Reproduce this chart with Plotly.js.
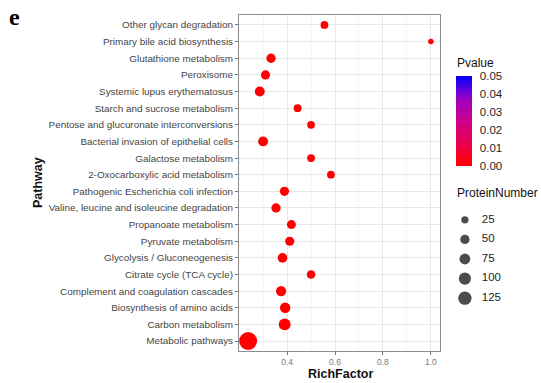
<!DOCTYPE html>
<html><head><meta charset="utf-8">
<script src="https://cdn.plot.ly/plotly-3.0.1.min.js"></script>
<style>html,body{margin:0;padding:0;background:#fff}#chart{width:541px;height:383px}</style>
</head><body><div id="chart"></div>
<script>
// ---- data (top to bottom) ----
const pathways = [
  "Other glycan degradation",
  "Primary bile acid biosynthesis",
  "Glutathione metabolism",
  "Peroxisome",
  "Systemic lupus erythematosus",
  "Starch and sucrose metabolism",
  "Pentose and glucuronate interconversions",
  "Bacterial invasion of epithelial cells",
  "Galactose metabolism",
  "2-Oxocarboxylic acid metabolism",
  "Pathogenic Escherichia coli infection",
  "Valine, leucine and isoleucine degradation",
  "Propanoate metabolism",
  "Pyruvate metabolism",
  "Glycolysis / Gluconeogenesis",
  "Citrate cycle (TCA cycle)",
  "Complement and coagulation cascades",
  "Biosynthesis of amino acids",
  "Carbon metabolism",
  "Metabolic pathways"
];
const richFactor = [0.556, 1.0, 0.333, 0.31, 0.286, 0.444, 0.5, 0.3, 0.5, 0.583,
                    0.389, 0.354, 0.418, 0.411, 0.381, 0.5, 0.375, 0.392, 0.39, 0.2375];
const proteinNumber = [30, 10, 50, 48, 60, 32, 30, 58, 30, 30,
                       48, 50, 45, 48, 55, 40, 65, 68, 95, 255];
const pValue = [0.0003, 0.0004, 0.0001, 0.0002, 0.0001, 0.0003, 0.0002, 0.0001, 0.0002, 0.0003,
                0.0001, 0.0002, 0.0001, 0.0001, 0.0001, 0.0002, 0.0001, 0.0001, 0.0001, 0.0000];
const xTicks = [0.4, 0.6, 0.8, 1.0];
const pTicks = [0, 0.01, 0.02, 0.03, 0.04, 0.05];
const sizeBreaks = [25, 50, 75, 100, 125];

// ---- styling helpers ----
const diam = n => 2.45 + 0.97 * Math.sqrt(n);
const cscale = [[0,'#FF0000'],[0.25,'#E8004F'],[0.5,'#CA0089'],[0.75,'#9A00C2'],[1,'#0000FF']];
const FONT = 'Liberation Sans, Arial, sans-serif';

const W = 541, H = 383, L = 239, R = 5, T = 15, B = 32;
const pw = W - L - R, ph = H - T - B;
const px = x => (x - L) / pw;          // pixel -> paper x
const py = y => 1 - (y - T) / ph;      // pixel -> paper y

const traces = [
  {
    type: 'scatter', mode: 'markers',
    x: richFactor, y: pathways,
    marker: {
      size: proteinNumber.map(diam), sizemode: 'diameter',
      color: pValue, colorscale: cscale, cmin: 0, cmax: 0.05,
      line: {width: 0}, opacity: 1,
      colorbar: {
        x: px(456), xanchor: 'left', y: py(76), yanchor: 'top',
        lenmode: 'pixels', len: 90, thickness: 16, thicknessmode: 'pixels',
        xpad: 0, ypad: 0, outlinewidth: 0,
        tickvals: pTicks, tickformat: '.2f',
        ticks: 'outside', ticklen: 6, tickcolor: 'rgba(0,0,0,0)',
        tickfont: {family: FONT, size: 11.5, color: '#222'}
      }
    },
    showlegend: false, hoverinfo: 'x+y'
  },
  {
    type: 'scatter', mode: 'markers',
    x: sizeBreaks.map(() => 0), y: sizeBreaks.map((s, i) => i),
    xaxis: 'x2', yaxis: 'y2',
    marker: {size: sizeBreaks.map(diam), color: '#000', line: {width: 0}},
    showlegend: false, hoverinfo: 'skip'
  },
  {
    type: 'scatter', mode: 'text',
    x: sizeBreaks.map(() => 0.95), y: sizeBreaks.map((s, i) => i),
    xaxis: 'x2', yaxis: 'y2',
    text: sizeBreaks.map(String), textposition: 'middle right',
    textfont: {family: FONT, size: 11.5, color: '#222'},
    showlegend: false, hoverinfo: 'skip'
  }
];

const layout = {
  width: W, height: H,
  margin: {l: L, r: R, t: T, b: B, pad: 0},
  paper_bgcolor: '#fff', plot_bgcolor: '#fff',
  font: {family: FONT},
  xaxis: {
    domain: [0, (440 - L) / pw],
    range: [0.1994, 1.0381],
    tickvals: xTicks, ticktext: xTicks.map(v => v.toFixed(1)),
    ticks: 'outside', ticklen: 3, tickcolor: '#555', tickwidth: 0.8,
    tickfont: {family: FONT, size: 8.5, color: '#777'},
    showgrid: true, gridcolor: '#e6e6e6', gridwidth: 0.9,
    minor: {tickvals: [0.3, 0.5, 0.7, 0.9], showgrid: true, gridcolor: '#f0f0f0', gridwidth: 0.6, ticks: ''},
    showline: true, linecolor: '#8c8c8c', linewidth: 1, mirror: true,
    zeroline: false
  },
  yaxis: {
    type: 'category', categoryorder: 'array', categoryarray: pathways,
    range: [19.6, -0.6],
    ticks: 'outside', ticklen: 3, tickcolor: '#555', tickwidth: 0.8,
    tickfont: {family: FONT, size: 9.9, color: '#444'},
    showgrid: true, gridcolor: '#e6e6e6', gridwidth: 0.9,
    showline: true, linecolor: '#8c8c8c', linewidth: 1, mirror: true,
    zeroline: false
  },
  xaxis2: {domain: [px(456), px(536)], range: [-0.5, 4], visible: false, fixedrange: true, anchor: 'y2'},
  yaxis2: {domain: [py(308), py(210)], range: [4.5, -0.5], visible: false, fixedrange: true, anchor: 'x2'},
  annotations: [
    {text: 'RichFactor', xref: 'paper', yref: 'paper', x: px(340), y: py(374),
     xanchor: 'center', yanchor: 'middle', showarrow: false,
     font: {family: FONT, size: 12.5, color: '#111', weight: 'bold'}},
    {text: 'Pathway', xref: 'paper', yref: 'paper', x: px(38), y: py(183),
     xanchor: 'center', yanchor: 'middle', textangle: -90, showarrow: false,
     font: {family: FONT, size: 12.5, color: '#111', weight: 'bold'}},
    {text: 'Pvalue', xref: 'paper', yref: 'paper', x: px(455), y: py(63),
     xanchor: 'left', yanchor: 'middle', showarrow: false,
     font: {family: FONT, size: 12, color: '#111'}},
    {text: 'ProteinNumber', xref: 'paper', yref: 'paper', x: px(455), y: py(193),
     xanchor: 'left', yanchor: 'middle', showarrow: false,
     font: {family: FONT, size: 12, color: '#111'}},
    {text: 'e', xref: 'paper', yref: 'paper', x: px(7), y: py(17),
     xanchor: 'left', yanchor: 'middle', showarrow: false,
     font: {family: 'Liberation Serif, Times New Roman, serif', size: 24, color: '#000', weight: 'bold'}}
  ]
};

Plotly.newPlot('chart', traces, layout, {staticPlot: true, displayModeBar: false});
</script>
</body></html>
